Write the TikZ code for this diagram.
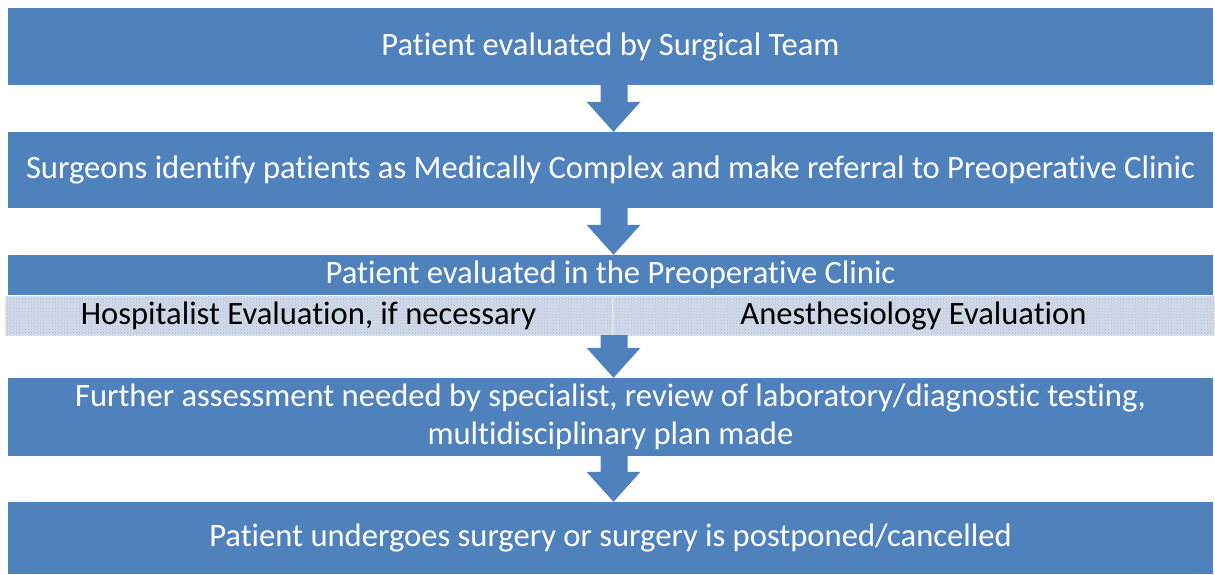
\documentclass[tikz,border=0pt]{standalone}
\usepackage{fontspec}
\setmainfont[Ligatures=NoCommon]{Carlito}
\usetikzlibrary{patterns}
\definecolor{stepblue}{HTML}{4F81BD}
\definecolor{bandfill}{HTML}{D3DBEA}
\definecolor{banddots}{HTML}{AEBCD6}
\definecolor{bandedge}{HTML}{E4E9F2}
\tikzset{
  stepbox/.style={rectangle, fill=stepblue, draw=none, minimum width=1205pt,
    text=white, font=\fontsize{32.6}{38}\selectfont, align=center, inner sep=0pt},
  bandcell/.style={rectangle, fill=bandfill, draw=bandedge, line width=1pt,
    text=black, font=\fontsize{32.6}{38}\selectfont, inner sep=0pt,
    postaction={pattern=crosshatch dots, pattern color=banddots}},
  flowarrow/.style={fill=stepblue, draw=none}
}
% block arrow from the bottom of one box to the top of the next
\newcommand{\blockarrow}[2]{%
  \path[flowarrow] ([xshift=-10pt]#1.south) -- ([xshift=17pt]#1.south)
    -- ([xshift=17pt,yshift=30pt]#2.north) -- ([xshift=30pt,yshift=30pt]#2.north)
    -- ([xshift=3pt]#2.north) -- ([xshift=-24pt,yshift=30pt]#2.north)
    -- ([xshift=-10pt,yshift=30pt]#2.north) -- cycle;}
\begin{document}
\begin{tikzpicture}[x=1pt,y=-1pt]
\useasboundingbox (0,0) rectangle (1215,574);
\node[stepbox, minimum height=77pt] (surg) at (610.5,46.5) {Patient evaluated by Surgical Team};
\node[stepbox, minimum height=76pt] (refer) at (610.5,170)
  {Surgeons identify patients as Medically Complex and make referral to Preoperative Clinic};
\node[stepbox, minimum height=40pt] (clinic) at (610.5,275) {Patient evaluated in the Preoperative Clinic};
\node[bandcell, minimum width=607pt, minimum height=39pt] (hosp) at (308.5,315.5)
  {Hospitalist Evaluation, if necessary};
\node[bandcell, minimum width=601pt, minimum height=39pt] (anes) at (913.5,315.5)
  {Anesthesiology Evaluation};
\node[stepbox, minimum height=78pt] (further) at (610.5,417)
  {Further assessment needed by specialist, review of laboratory/diagnostic testing,\\multidisciplinary plan made};
\node[stepbox, minimum height=72pt] (outcome) at (610.5,538)
  {Patient undergoes surgery or surgery is postponed/cancelled};
\blockarrow{surg}{refer}
\blockarrow{refer}{clinic}
\coordinate (bandbot) at (610.5,335);
\blockarrow{bandbot}{further}
\blockarrow{further}{outcome}
\end{tikzpicture}
\end{document}
